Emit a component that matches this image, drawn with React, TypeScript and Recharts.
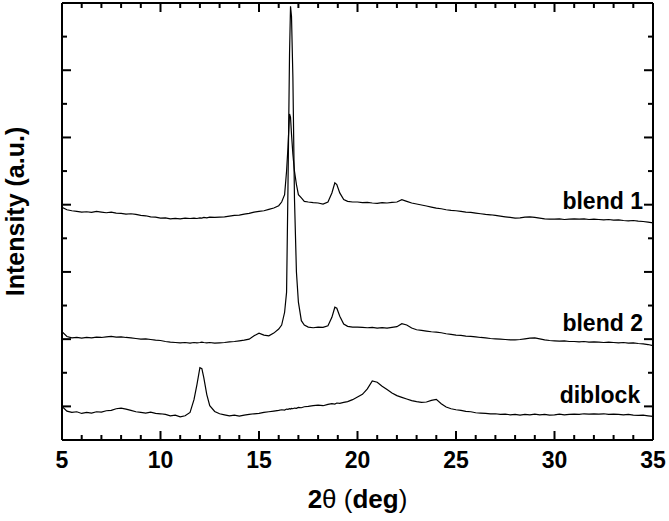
import { LineChart, Line, XAxis, YAxis, ReferenceDot } from 'recharts';

// 2θ grid (deg), denser around the reflections
const twoTheta = [
  5, 5.25, 5.5, 5.75, 6, 6.25, 6.5, 6.75, 7, 7.25,
  7.5, 7.75, 8, 8.25, 8.5, 8.75, 9, 9.25, 9.5, 9.75,
  10, 10.25, 10.5, 10.75, 11, 11.25, 11.5,
  11.7, 11.85, 12, 12.1, 12.2, 12.35, 12.5, 12.75,
  13, 13.25, 13.5, 13.75, 14, 14.25, 14.5, 14.75, 15, 15.25, 15.5, 15.75, 16,
  16.15, 16.3, 16.4, 16.47, 16.55, 16.6, 16.65, 16.72, 16.8, 16.9, 17, 17.15, 17.3, 17.5, 17.75,
  18, 18.25, 18.5, 18.7, 18.85, 18.95, 19.1, 19.3, 19.5, 19.75,
  20, 20.25, 20.5, 20.75, 21, 21.25, 21.5, 21.75, 22, 22.25,
  22.5, 22.75, 23, 23.25, 23.5, 23.75, 24, 24.25, 24.5, 24.75,
  25, 25.25, 25.5, 25.75, 26, 26.25, 26.5, 26.75, 27, 27.25,
  27.5, 27.75, 28, 28.25, 28.5, 28.75, 29, 29.25, 29.5, 29.75,
  30, 30.25, 30.5, 30.75, 31, 31.25, 31.5, 31.75, 32, 32.25,
  32.5, 32.75, 33, 33.25, 33.5, 33.75, 34, 34.25, 34.5, 34.75,
  35,
];

const blend1 = [
  6.92, 6.85, 6.82, 6.8, 6.78, 6.79, 6.77, 6.8, 6.78, 6.76,
  6.78, 6.75, 6.74, 6.72, 6.73, 6.71, 6.68, 6.67, 6.64, 6.63,
  6.6, 6.61, 6.58, 6.59, 6.58, 6.6, 6.59,
  6.6, 6.59, 6.61, 6.6, 6.62, 6.61, 6.63, 6.62,
  6.63, 6.64, 6.66, 6.68, 6.69, 6.72, 6.74, 6.78, 6.8, 6.82, 6.86, 6.9, 6.97,
  7.08, 7.3, 8.0, 8.7, 9.7, 9.6, 9.1, 8.5, 8.0, 7.6, 7.3, 7.2, 7.1, 7.08, 7.06,
  7.05, 7.02, 7.08, 7.35, 7.65, 7.6, 7.35, 7.15, 7.1, 7.08,
  7.08, 7.06, 7.07, 7.05, 7.04, 7.06, 7.05, 7.07, 7.08, 7.15,
  7.1, 7.05, 7.02, 6.99, 6.96, 6.93, 6.9, 6.88, 6.85, 6.83,
  6.82, 6.8, 6.78, 6.77, 6.75, 6.73, 6.71, 6.7, 6.68, 6.66,
  6.64, 6.62, 6.6, 6.61, 6.63, 6.64, 6.62, 6.6, 6.58, 6.57,
  6.57, 6.58, 6.56, 6.57, 6.58, 6.57, 6.58, 6.56, 6.57, 6.56,
  6.55, 6.56, 6.54, 6.55, 6.53, 6.52, 6.53, 6.51, 6.5, 6.48,
  6.46,
];

const blend2 = [
  3.22, 3.08, 3.04, 3.05, 3.03, 3.05, 3.04, 3.06, 3.05, 3.07,
  3.08, 3.06, 3.07, 3.05, 3.04, 3.02, 3.0, 3.01, 2.99, 2.97,
  2.96, 2.93, 2.91, 2.9, 2.89, 2.9, 2.88,
  2.9, 2.89, 2.9, 2.91, 2.9, 2.89, 2.9, 2.88,
  2.89, 2.9, 2.92, 2.93, 2.95, 2.97, 3.0, 3.1, 3.18, 3.12, 3.1, 3.18, 3.3,
  3.42, 3.8, 4.4, 7.5, 11.5, 12.9, 12.6, 10.8, 7.2, 5.0, 4.1, 3.55, 3.42, 3.36, 3.34,
  3.36, 3.35, 3.4, 3.65, 3.95, 3.92, 3.68, 3.45, 3.38, 3.36,
  3.36, 3.35, 3.34, 3.35, 3.33, 3.34, 3.33, 3.35, 3.37, 3.46,
  3.42, 3.33, 3.28, 3.26, 3.24, 3.22, 3.21, 3.19, 3.16, 3.14,
  3.12, 3.11, 3.09, 3.08, 3.07, 3.05, 3.04, 3.02, 3.01, 3.0,
  2.99, 2.98, 2.98, 2.99, 3.01, 3.03, 3.04, 3.01, 2.98, 2.96,
  2.95, 2.94, 2.95, 2.93, 2.93, 2.92, 2.93, 2.91, 2.92, 2.91,
  2.9, 2.91, 2.9, 2.89, 2.9, 2.88, 2.89, 2.87, 2.86, 2.84,
  2.81,
];

const diblock = [
  1.0, 0.86, 0.82, 0.84, 0.79, 0.82, 0.8, 0.84, 0.83, 0.87,
  0.88, 0.93, 0.95, 0.92, 0.88, 0.84, 0.82, 0.8, 0.83, 0.79,
  0.78, 0.76, 0.72, 0.74, 0.69, 0.72, 0.82,
  1.2, 1.65, 2.15, 2.12, 1.85, 1.35, 1.02, 0.85,
  0.78, 0.75, 0.72, 0.74, 0.71, 0.74, 0.76, 0.78, 0.79, 0.82, 0.84, 0.86, 0.88,
  0.9, 0.89, 0.92, 0.91, 0.93, 0.92, 0.94, 0.93, 0.95, 0.94, 0.97, 0.96, 0.99, 1.0, 1.02,
  1.04, 1.02, 1.06, 1.08, 1.07, 1.1, 1.09, 1.12, 1.14, 1.2,
  1.28, 1.36, 1.52, 1.76, 1.72, 1.6, 1.5, 1.4, 1.32, 1.27,
  1.22, 1.17, 1.14, 1.12, 1.13, 1.18, 1.21, 1.08, 0.98, 0.93,
  0.9, 0.88, 0.85, 0.84, 0.81, 0.8, 0.79, 0.78, 0.78, 0.76,
  0.77, 0.75, 0.76, 0.74, 0.76, 0.75, 0.77, 0.75, 0.76, 0.74,
  0.75, 0.77, 0.75, 0.76, 0.77, 0.76, 0.78, 0.77, 0.78, 0.77,
  0.78, 0.76, 0.77, 0.76, 0.75, 0.76, 0.74, 0.73, 0.74, 0.72,
  0.7,
];

const xTicks = [5, 6, 7, 8, 9, 10, 11, 12, 13, 14, 15, 16, 17, 18, 19, 20, 21, 22, 23, 24, 25, 26, 27, 28, 29, 30, 31, 32, 33, 34, 35];
const yTicks = [1, 2, 3, 4, 5, 6, 7, 8, 9, 10, 11, 12];

// where the sample names sit (right aligned, baseline)
const tagNames = ['blend 1', 'blend 2', 'diblock'];
const tagX = [34.49, 34.49, 34.35];
const tagY = [6.87, 3.24, 1.1];

const data = twoTheta.map((x, i) => ({
  x,
  blend1: blend1[i],
  blend2: blend2[i],
  diblock: diblock[i],
}));

const FONT = '"Liberation Sans", Arial, Helvetica, sans-serif';
const MAJOR = 9;
const MINOR = 5;
const X_GAP = 12;

function BottomTick({ x, y, payload }: any) {
  const v = payload.value;
  const major = v % 5 === 0;
  const axisY = y - X_GAP;
  return (
    <g>
      {v > 5 && v < 35 && (
        <line x1={x} x2={x} y1={axisY} y2={axisY - (major ? MAJOR : MINOR)} stroke="#000" strokeWidth={2} />
      )}
      {major && (
        <text x={x} y={y} dy="0.71em" textAnchor="middle" fontFamily={FONT} fontWeight="bold" fontSize={23} fill="#000">
          {v}
        </text>
      )}
    </g>
  );
}

function TopTick({ x, y, payload }: any) {
  const v = payload.value;
  if (v <= 5 || v >= 35) return <g />;
  const len = v % 5 === 0 ? MAJOR : MINOR;
  return <line x1={x} x2={x} y1={y} y2={y + len} stroke="#000" strokeWidth={2} />;
}

function LeftTick({ x, y, payload }: any) {
  const len = payload.value % 2 === 1 ? MAJOR : MINOR;
  return <line x1={x} x2={x + len} y1={y} y2={y} stroke="#000" strokeWidth={2} />;
}

function RightTick({ x, y, payload }: any) {
  const len = payload.value % 2 === 1 ? MAJOR : MINOR;
  return <line x1={x} x2={x - len} y1={y} y2={y} stroke="#000" strokeWidth={2} />;
}

function YTitle({ viewBox }: any) {
  const cx = 24;
  const cy = viewBox.y + viewBox.height / 2 - 10;
  return (
    <text
      x={cx}
      y={cy}
      transform={`rotate(-90, ${cx}, ${cy})`}
      textAnchor="middle"
      fontFamily={FONT}
      fontWeight="bold"
      fontSize={25}
      fill="#000"
    >
      Intensity (a.u.)
    </text>
  );
}

function XTitle({ viewBox }: any) {
  const cx = viewBox.x + viewBox.width / 2;
  return (
    <text x={cx} y={508} textAnchor="middle" fontFamily={FONT} fontSize={26} fill="#000">
      <tspan fontWeight="bold">2</tspan>
      <tspan>θ (</tspan>
      <tspan fontWeight="bold">deg</tspan>
      <tspan>)</tspan>
    </text>
  );
}

function Tag(name: string) {
  return ({ viewBox }: any) => (
    <text x={viewBox.x} y={viewBox.y} textAnchor="end" fontFamily={FONT} fontWeight="bold" fontSize={23} fill="#000">
      {name}
    </text>
  );
}

export default function App() {
  return (
    <div style={{ position: 'absolute', left: 0, top: 0, width: 669, height: 521, background: '#fff' }}>
      <LineChart width={669} height={521} data={data} margin={{ top: 0, right: 0, bottom: 0, left: 0 }}>
        <XAxis
          xAxisId="b"
          dataKey="x"
          type="number"
          domain={[5, 35]}
          allowDataOverflow
          ticks={xTicks}
          interval={0}
          height={81}
          tickSize={0}
          tickMargin={X_GAP}
          tickLine={false}
          axisLine={{ stroke: '#000', strokeWidth: 2 }}
          tick={<BottomTick />}
          label={{ content: XTitle }}
        />
        <XAxis
          xAxisId="t"
          orientation="top"
          dataKey="x"
          type="number"
          domain={[5, 35]}
          allowDataOverflow
          ticks={xTicks}
          interval={0}
          height={3}
          tickSize={0}
          tickMargin={0}
          tickLine={false}
          axisLine={{ stroke: '#000', strokeWidth: 2 }}
          tick={<TopTick />}
        />
        <YAxis
          yAxisId="l"
          type="number"
          domain={[0, 13]}
          allowDataOverflow
          ticks={yTicks}
          interval={0}
          width={62}
          tickSize={0}
          tickMargin={0}
          tickLine={false}
          axisLine={{ stroke: '#000', strokeWidth: 2 }}
          tick={<LeftTick />}
          label={{ content: YTitle }}
        />
        <YAxis
          yAxisId="r"
          orientation="right"
          type="number"
          domain={[0, 13]}
          allowDataOverflow
          ticks={yTicks}
          interval={0}
          width={16}
          tickSize={0}
          tickMargin={0}
          tickLine={false}
          axisLine={{ stroke: '#000', strokeWidth: 2 }}
          tick={<RightTick />}
        />
        <Line xAxisId="b" yAxisId="l" type="linear" dataKey="blend1" stroke="#000" strokeWidth={1.2} dot={false} isAnimationActive={false} />
        <Line xAxisId="b" yAxisId="l" type="linear" dataKey="blend2" stroke="#000" strokeWidth={1.2} dot={false} isAnimationActive={false} />
        <Line xAxisId="b" yAxisId="l" type="linear" dataKey="diblock" stroke="#000" strokeWidth={1.2} dot={false} isAnimationActive={false} />
        {tagNames.map((name, i) => (
          <ReferenceDot
            key={name}
            xAxisId="b"
            yAxisId="l"
            x={tagX[i]}
            y={tagY[i]}
            r={0}
            fill="none"
            stroke="none"
            label={{ content: Tag(name) }}
          />
        ))}
      </LineChart>
    </div>
  );
}
